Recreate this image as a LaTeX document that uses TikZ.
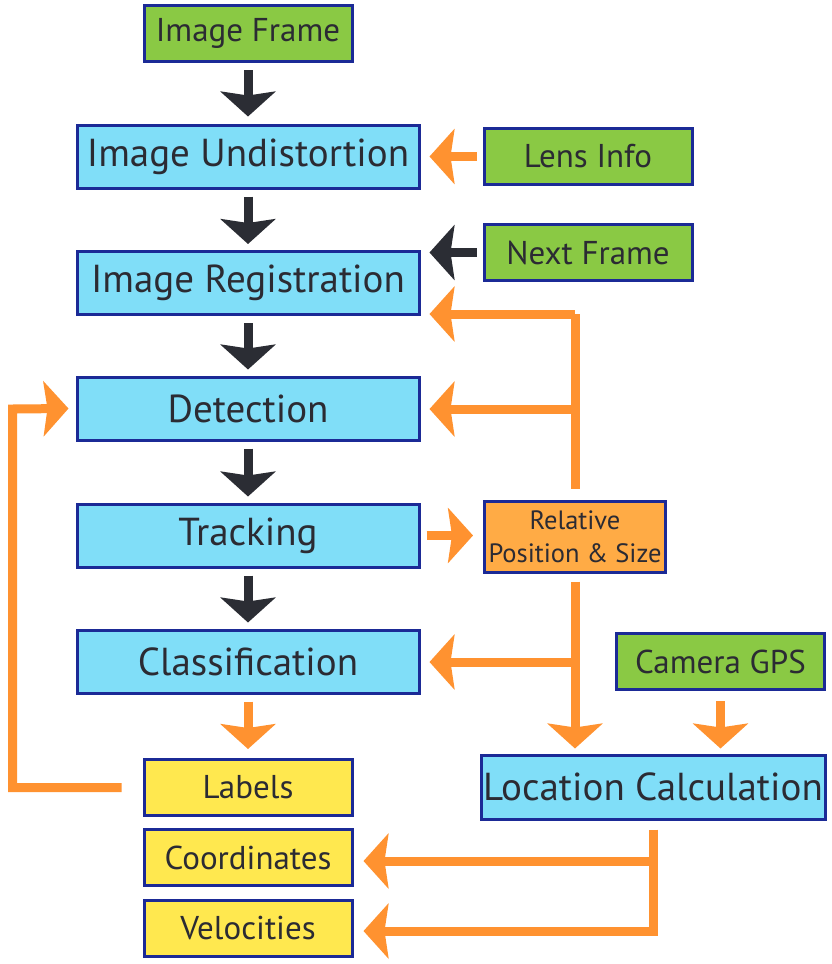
\documentclass[tikz,border=0pt]{standalone}
\usepackage{fontspec}
\setmainfont{PT Sans}
\usetikzlibrary{arrows.meta,calc}
\definecolor{boxgreen}{HTML}{8AC944}
\definecolor{boxblue}{HTML}{80DEF8}
\definecolor{boxyellow}{HTML}{FFE84F}
\definecolor{boxorange}{HTML}{FFAB45}
\definecolor{boxborder}{HTML}{1B2A96}
\definecolor{linkorange}{HTML}{FF9230}
\definecolor{linkdark}{HTML}{2B2D34}
\definecolor{txt}{HTML}{2B2B33}
\tikzset{
  basebox/.style={draw=boxborder, line width=3pt, rectangle, inner sep=0pt, text=txt, align=center},
  bigbox/.style={basebox, fill=boxblue, minimum width=342pt, minimum height=63pt, font=\fontsize{39}{42}\selectfont},
  greenbox/.style={basebox, fill=boxgreen, minimum width=208pt, minimum height=56pt, font=\fontsize{33}{36}\selectfont},
  yellowbox/.style={basebox, fill=boxyellow, minimum width=208pt, minimum height=56pt, font=\fontsize{33}{36}\selectfont},
  relbox/.style={basebox, fill=boxorange, minimum width=181pt, minimum height=71pt, font=\fontsize{26.5}{33}\selectfont},
  head/.style={-{Stealth[length=25pt,width=55pt,inset=4pt]}},
  darkarrow/.style={draw=linkdark, line width=9pt, head},
  orangearrow/.style={draw=linkorange, line width=9pt, head},
  orangeline/.style={draw=linkorange, line width=9pt, line join=miter},
}
\begin{document}
\begin{tikzpicture}[x=1pt,y=-1pt]
\useasboundingbox (0,0) rectangle (832,964);
% nodes
\node[greenbox] (frame) at (248,33.5) {Image Frame};
\node[bigbox] (undist) at (248,156.5) {Image Undistortion};
\node[greenbox] (lens) at (588,156.5) {Lens Info};
\node[greenbox] (next) at (588,252.5) {Next Frame};
\node[bigbox] (reg) at (248,283) {Image Registration};
\node[bigbox] (det) at (248,408.5) {Detection};
\node[bigbox] (track) at (248,535.5) {Tracking};
\node[relbox] (rel) at (575,536.5) {Relative\\Position \& Size};
\node[bigbox] (class) at (248,661.5) {Classification};
\node[greenbox] (gps) at (720.5,661.5) {Camera GPS};
\node[yellowbox] (labels) at (248,787.5) {Labels};
\node[bigbox, minimum width=344pt, minimum height=64pt] (loc) at (653,787) {Location Calculation};
\node[yellowbox] (coord) at (248,857.5) {Coordinates};
\node[yellowbox] (vel) at (248,928) {Velocities};
% junction coordinates
\coordinate (jreg) at (575,314);
\coordinate (jdet) at (575,409);
\coordinate (jcls) at (575,662);
\coordinate (jcoord) at (653,861);
\coordinate (jvel) at (653,931);
\coordinate (lpA) at (12.5,787.5);
\coordinate (lpB) at (12.5,409);
% main chain
\draw[darkarrow, shorten <=7pt, shorten >=7pt] (frame) -- (undist);
\draw[darkarrow, shorten <=7pt, shorten >=6pt] (undist) -- (reg);
\draw[darkarrow, shorten <=7pt, shorten >=6pt] (reg) -- (det);
\draw[darkarrow, shorten <=7pt, shorten >=6pt] (det) -- (track);
\draw[darkarrow, shorten <=7pt, shorten >=6pt] (track) -- (class);
\draw[orangearrow, shorten <=7pt, shorten >=9pt] (class) -- (labels);
% side inputs
\draw[orangearrow, shorten <=6pt, shorten >=9pt] (lens.west) -- (undist.east);
\draw[darkarrow, shorten <=6pt, shorten >=9pt] (next.west) -- (next.west -| reg.east);
\draw[orangearrow, shorten <=6pt, shorten >=10pt] (track.east) -- (rel.west |- track.east);
% feedback from relative position
\draw[orangeline, shorten <=11pt] (rel.north) -- (jreg);
\draw[orangearrow] (jreg) -- ([xshift=9pt]reg.east |- jreg);
\draw[orangearrow] (jdet) -- ([xshift=9pt]det.east |- jdet);
\draw[orangearrow, shorten <=8pt, shorten >=5pt] (rel.south) -- (rel.south |- loc.north);
\draw[orangearrow] (jcls) -- ([xshift=9pt]class.east |- jcls);
\draw[orangearrow, shorten <=10pt, shorten >=5pt] (gps.south) -- (gps.south |- loc.north);
% outputs of location calculation
\draw[orangeline, shorten <=9pt] (loc.south) -- ([yshift=4.5pt]jvel);
\draw[orangearrow] (jcoord) -- ([xshift=10pt]coord.east |- jcoord);
\draw[orangearrow] ([xshift=4.5pt]jvel) -- ([xshift=10pt]vel.east |- jvel);
% loop from labels back to detection
\draw[orangeline, head, shorten <=21pt] (labels.west) -- (lpA) -- (lpB) -- ([xshift=-7pt]det.west);
\end{tikzpicture}
\end{document}
